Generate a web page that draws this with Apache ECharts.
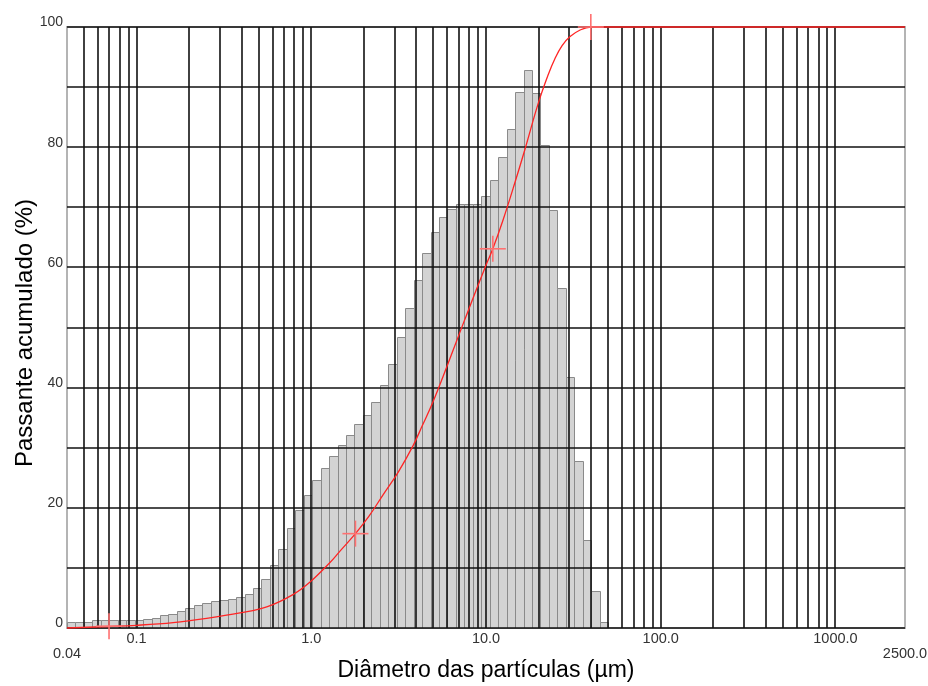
<!DOCTYPE html>
<html>
<head>
<meta charset="utf-8">
<title>Distribuição granulométrica</title>
<script src="https://cdn.jsdelivr.net/npm/echarts@6/dist/echarts.min.js"></script>
<style>
  html, body { margin: 0; padding: 0; background: #ffffff; }
  #chart { width: 928px; height: 686px; }
</style>
</head>
<body>
<div id="chart"></div>
<script>
// Size classes: 64 log-spaced classes from 0.04 µm to 50 µm
const classLower = 0.04;
const classUpper = 50;
// Frequency per class (bar heights, % scale of the plot)
const classFreq = [
  1.05, 1.05, 1.05, 1.3, 1.35, 1.35, 1.35, 1.35, 1.4, 1.45,
  1.7, 2.2, 2.4, 2.8, 3.3, 3.9, 4.1, 4.5, 4.7, 4.9,
  5.2, 5.6, 6.7, 8.2, 10.4, 13.1, 16.6, 19.6, 22.2, 24.6,
  26.6, 28.7, 30.4, 32.1, 33.9, 35.4, 37.6, 40.4, 43.9, 48.4,
  53.2, 57.9, 62.4, 65.9, 68.4, 69.7, 70.5, 70.5, 70.5, 71.9,
  74.5, 78.4, 83.1, 89.2, 92.8, 89.0, 80.4, 69.5, 56.6, 41.8,
  27.8, 14.6, 6.2, 1.0
];

// Cumulative passing curve
const cumDiam = [0.04, 0.0696, 0.1, 0.162, 0.252, 0.391, 0.556, 0.79, 0.98, 1.28,
  1.46, 1.79, 2.14, 2.58, 3.14, 3.82, 4.31, 4.92, 5.99, 6.92,
  7.79, 8.89, 10.14, 10.94, 12.52, 14.67, 16.73, 19.86, 22.66, 24.86,
  27.26, 30.28, 34.57, 39.8, 2500];
const cumPass = [0.0, 0.25, 0.45, 0.9, 1.6, 2.5, 3.5, 5.6, 7.6, 10.9,
  12.8, 15.7, 18.6, 22.2, 25.9, 30.3, 33.6, 37.3, 43.6, 48.4,
  52.3, 56.6, 60.8, 63.1, 67.9, 74.2, 79.7, 87.2, 92.0, 94.8,
  96.9, 98.4, 99.5, 100, 100];

// Characteristic points marked on the curve
const markDiam = [0.0696, 1.79, 10.94, 39.8];
const markPass = [0.3, 15.7, 63.1, 100];

// Axis ticks and labels
const xMin = 0.04, xMax = 2500;
const xLabelValues = [0.04, 0.1, 1, 10, 100, 1000, 2500];
const xLabelTexts = ['0.04', '0.1', '1.0', '10.0', '100.0', '1000.0', '2500.0'];
const xLabelLow = [true, false, false, false, false, false, true];
const yLabelValues = [0, 20, 40, 60, 80, 100];
const yGridStep = 10;

// Class boundaries (geometric)
const nClass = classFreq.length;
const ratio = Math.pow(classUpper / classLower, 1 / nClass);
const barData = classFreq.map((h, i) => [classLower * Math.pow(ratio, i), classLower * Math.pow(ratio, i + 1), h]);

// Grid lines: 1..9 x 10^k inside the axis range, up to 1000
const gridX = [];
for (let e = -2; e <= 3; e++) {
  for (let k = 1; k <= 9; k++) {
    const v = +(k * Math.pow(10, e)).toPrecision(6);
    if (v > xMin && v <= 1000) gridX.push(v);
  }
}
const gridY = [];
for (let v = 0; v <= 100; v += yGridStep) gridY.push(v);

const chart = echarts.init(document.getElementById('chart'), null, { renderer: 'canvas' });

const option = {
  backgroundColor: '#ffffff',
  animation: false,
  grid: {
    left: 67, right: 23, top: 27, bottom: 58,
    containLabel: false, outerBoundsMode: 'none',
    show: true, borderColor: '#b4b4b4', borderWidth: 2, backgroundColor: 'transparent'
  },
  xAxis: {
    type: 'log', logBase: 10, min: xMin, max: xMax,
    name: 'Diâmetro das partículas (µm)',
    nameLocation: 'middle', nameGap: 31, nameMoveOverlap: false,
    nameTextStyle: { fontFamily: 'Liberation Sans', fontSize: 23, color: '#000' },
    axisLine: { show: false }, axisTick: { show: false }, splitLine: { show: false },
    axisLabel: {
      showMinLabel: true, showMaxLabel: true, margin: 3,
      fontFamily: 'Liberation Sans', fontSize: 14.5, color: '#333', lineHeight: 15,
      formatter: function (v) {
        for (let i = 0; i < xLabelValues.length; i++) {
          if (Math.abs(Math.log10(v) - Math.log10(xLabelValues[i])) < 0.01) {
            return xLabelLow[i] ? '\n' + xLabelTexts[i] : xLabelTexts[i];
          }
        }
        return '';
      }
    }
  },
  yAxis: {
    type: 'value', min: 0, max: 100, interval: yGridStep,
    name: 'Passante acumulado (%)',
    nameLocation: 'middle', nameGap: 30, nameMoveOverlap: false,
    nameTextStyle: { fontFamily: 'Liberation Sans', fontSize: 24, color: '#000', padding: [0, 11, 0, 0] },
    axisLine: { show: false }, axisTick: { show: false }, splitLine: { show: false },
    axisLabel: {
      margin: 4, verticalAlign: 'middle', lineHeight: 9,
      fontFamily: 'Liberation Sans', fontSize: 14, color: '#333',
      // second (blank) line lifts the number just above its grid line
      formatter: function (v) { return yLabelValues.indexOf(v) >= 0 ? String(v) + '\n ' : ''; }
    }
  },
  series: [
    {
      name: 'Frequência',
      type: 'custom', z: 2, clip: false,
      encode: { x: [0, 1], y: 2 },
      data: barData,
      renderItem: function (params, api) {
        const p0 = api.coord([api.value(0), 0]);
        const p1 = api.coord([api.value(1), api.value(2)]);
        return {
          type: 'rect',
          shape: { x: Math.round(p0[0]) + 0.5, y: Math.round(p1[1]) + 0.5, width: Math.round(p1[0]) - Math.round(p0[0]), height: Math.round(p0[1]) - Math.round(p1[1]) },
          style: { fill: '#d3d3d3', stroke: '#8a8a8a', lineWidth: 1 }
        };
      }
    },
    {
      name: 'gradeX',
      type: 'custom', z: 3, silent: true, clip: false,
      encode: { x: 0, y: 1 },
      data: gridX.map(v => [v, 0]),
      renderItem: function (params, api) {
        const a = api.coord([api.value(0), 0]);
        const b = api.coord([api.value(0), 100]);
        const x = Math.round(a[0]);
        return { type: 'line', shape: { x1: x, y1: a[1], x2: x, y2: b[1] }, style: { stroke: '#111', lineWidth: 1.6 } };
      }
    },
    {
      name: 'gradeY',
      type: 'custom', z: 3, silent: true, clip: false,
      encode: { x: 0, y: 1 },
      data: gridY.map(v => [1, v]),
      renderItem: function (params, api) {
        const a = api.coord([xMin, api.value(1)]);
        const b = api.coord([xMax, api.value(1)]);
        const y = Math.round(a[1]);
        return { type: 'line', shape: { x1: a[0], y1: y, x2: b[0], y2: y }, style: { stroke: '#111', lineWidth: 1.6 } };
      }
    },
    {
      name: 'Passante acumulado',
      type: 'line', z: 5, clip: false,
      data: cumDiam.map((d, i) => [d, cumPass[i]]),
      smooth: 0.4,
      showSymbol: false, symbol: 'none',
      lineStyle: { color: '#ff2424', width: 1.3 }
    },
    {
      name: 'Pontos',
      type: 'custom', z: 6, clip: false,
      encode: { x: 0, y: 1 },
      data: markDiam.map((d, i) => [d, markPass[i]]),
      renderItem: function (params, api) {
        const c = api.coord([api.value(0), api.value(1)]);
        const s = 13;
        const st = { stroke: '#ff7070', lineWidth: 1.6 };
        return {
          type: 'group',
          children: [
            { type: 'line', shape: { x1: c[0] - s, y1: c[1], x2: c[0] + s, y2: c[1] }, style: st },
            { type: 'line', shape: { x1: c[0], y1: c[1] - s, x2: c[0], y2: c[1] + s }, style: st }
          ]
        };
      }
    }
  ]
};

chart.setOption(option);
</script>
</body>
</html>
